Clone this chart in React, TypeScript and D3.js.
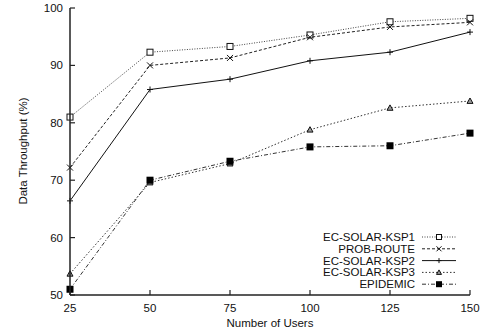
import React from "react";
import * as d3 from "d3";

const users = [25, 50, 75, 100, 125, 150];
const ksp1 = [81.0, 92.3, 93.3, 95.3, 97.6, 98.2];
const probRoute = [72.2, 90.0, 91.3, 94.9, 96.7, 97.5];
const ksp2 = [66.4, 85.8, 87.6, 90.8, 92.3, 95.8];
const ksp3 = [53.7, 69.6, 72.9, 78.8, 82.6, 83.8];
const epidemic = [51.0, 70.0, 73.3, 75.8, 76.0, 78.2];
const yTicks = [50, 60, 70, 80, 90, 100];

type S = { name: string; values: number[]; dash: string; color: string; marker: string };
const series: S[] = [
  { name: "EC-SOLAR-KSP1", values: ksp1, dash: "1,1.5", color: "#444", marker: "sq" },
  { name: "PROB-ROUTE", values: probRoute, dash: "3,2", color: "#222", marker: "x" },
  { name: "EC-SOLAR-KSP2", values: ksp2, dash: "", color: "#111", marker: "plus" },
  { name: "EC-SOLAR-KSP3", values: ksp3, dash: "1.5,2", color: "#333", marker: "tri" },
  { name: "EPIDEMIC", values: epidemic, dash: "4,2,1,2", color: "#333", marker: "fsq" },
];

function Marker({ type, x, y, r = 3 }: { type: string; x: number; y: number; r?: number }) {
  if (type === "sq")
    return <rect x={x - r} y={y - r} width={2 * r} height={2 * r} fill="white" stroke="#111" strokeWidth={1} />;
  if (type === "fsq") return <rect x={x - r - 0.5} y={y - r - 0.5} width={2 * r + 1} height={2 * r + 1} fill="#000" />;
  if (type === "x")
    return (
      <path d={`M${x - r},${y - r}L${x + r},${y + r}M${x - r},${y + r}L${x + r},${y - r}`} stroke="#111" strokeWidth={1} />
    );
  if (type === "plus")
    return <path d={`M${x - r},${y}L${x + r},${y}M${x},${y - r}L${x},${y + r}`} stroke="#111" strokeWidth={1} />;
  return (
    <path d={`M${x},${y - r}L${x + r},${y + r * 0.8}L${x - r},${y + r * 0.8}Z`} fill="#999" stroke="#111" strokeWidth={1} />
  );
}

export default function App() {
  const W = 485, H = 335;
  const x = d3.scaleLinear().domain([25, 150]).range([70, 470]);
  const y = d3.scaleLinear().domain([50, 100]).range([295, 8]);
  const line = d3
    .line<number>()
    .x((_, i) => x(users[i]))
    .y((d) => y(d));
  const font = "Liberation Sans, Arial, sans-serif";
  return (
    <svg width={W} height={H} style={{ position: "absolute", left: 0, top: 0 }} fontFamily={font}>
      <rect width={W} height={H} fill="white" />
      {series.map((s) => (
        <g key={s.name}>
          <path d={line(s.values) || ""} fill="none" stroke={s.color} strokeWidth={1} strokeDasharray={s.dash} />
          {s.values.map((v, i) => (
            <Marker key={i} type={s.marker} x={x(users[i])} y={y(v)} />
          ))}
        </g>
      ))}
      {/* axes */}
      <line x1={70} x2={70} y1={y(100)} y2={y(50)} stroke="#222" strokeWidth={1.5} />
      <line x1={70} x2={470} y1={y(50)} y2={y(50)} stroke="#222" strokeWidth={1.5} />
      {yTicks.map((t) => (
        <g key={t}>
          <line x1={70} x2={75} y1={y(t)} y2={y(t)} stroke="#222" strokeWidth={1.2} />
          <text x={63} y={y(t) + 4} textAnchor="end" fontSize={11.5} fill="#111">
            {t}
          </text>
        </g>
      ))}
      {users.map((u) => (
        <g key={u}>
          <line x1={x(u)} x2={x(u)} y1={295} y2={290} stroke="#222" strokeWidth={1.2} />
          <text x={x(u)} y={312} textAnchor="middle" fontSize={11.5} fill="#111">
            {u}
          </text>
        </g>
      ))}
      <text x={270} y={327} textAnchor="middle" fontSize={11.5} fill="#111">
        Number of Users
      </text>
      <text transform={`translate(27,${151}) rotate(-90)`} textAnchor="middle" fontSize={11.5} fill="#111">
        Data Throughput (%)
      </text>
      {/* legend */}
      {series.map((s, i) => {
        const ly = 237 + i * 11.8;
        return (
          <g key={s.name}>
            <text x={415} y={ly + 4} textAnchor="end" fontSize={11.5} fill="#111">
              {s.name}
            </text>
            <line x1={422} x2={456} y1={ly} y2={ly} stroke={s.color} strokeWidth={1} strokeDasharray={s.dash} />
            <Marker type={s.marker} x={439} y={ly} r={2.5} />
          </g>
        );
      })}
    </svg>
  );
}
